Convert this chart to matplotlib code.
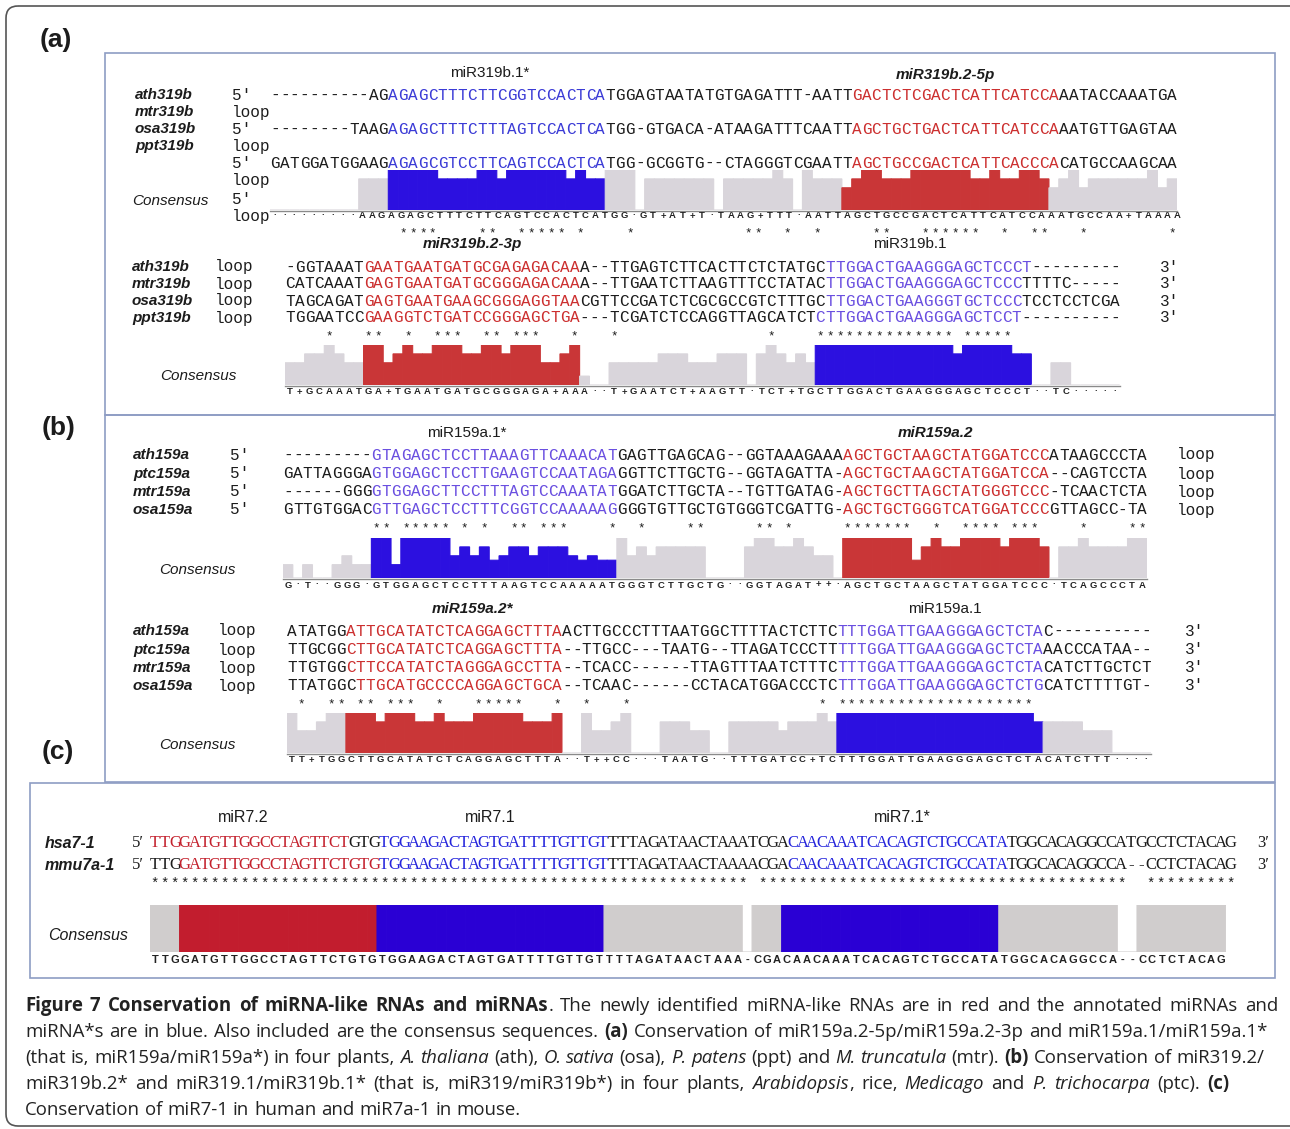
import numpy as np
import matplotlib.pyplot as plt
from matplotlib.patches import Rectangle, FancyBboxPatch

W, H = 1290, 1129
MONO, SANS, SERIF = 'Liberation Mono', 'Liberation Sans', 'Liberation Serif'

# ---------------- data ----------------
# each row: list of (text, colour key)  k = black, b = miRNA (blue), r = miRNA-like (red)
a1_names = ['ath319b', 'mtr319b', 'osa319b', 'ppt319b']
a1_tags = ["5\u2032", 'loop', "5\u2032", 'loop', "5\u2032", 'loop', "5\u2032"]
a1_rows = [
    [('----------AG', 'k'), ('AGAGCTTTCTTCGGTCCACTCA', 'b'), ('TGGAGTAATATGTGAGATTT-AATT', 'k'),
     ('GACTCTCGACTCATTCATCCA', 'r'), ('AATACCAAATGA', 'k')],
    [('--------TAAG', 'k'), ('AGAGCTTTCTTTAGTCCACTCA', 'b'), ('TGG-GTGACA-ATAAGATTTCAATT', 'k'),
     ('AGCTGCTGACTCATTCATCCA', 'r'), ('AATGTTGAGTAA', 'k')],
    [('GATGGATGGAAG', 'k'), ('AGAGCGTCCTTCAGTCCACTCA', 'b'), ('TGG-GCGGTG--CTAGGGTCGAATT', 'k'),
     ('AGCTGCCGACTCATTCACCCA', 'r'), ('CATGCCAAGCAA', 'k')],
]
a1_cons = '\u00b7' * 9 + 'AAGAGAGCTTTCTTCAGTCCACTCATGG\u00b7GT+AT+T\u00b7TAAG+TTT\u00b7AATTAGCTGCCGACTCATTCATCCAAATGCCAA+TAAAA'
a1_runs = [(9, 0), (3, 7), (5, 9), (4, 7), (2, 9), (1, 7), (6, 9), (1, 7), (1, 9), (2, 7), (3, 9), (1, 0),
           (7, 7), (1, 0), (5, 7), (1, 9), (1, 7), (1, 0), (1, 9), (3, 7), (1, 5), (1, 7), (2, 9), (3, 7),
           (6, 9), (2, 7), (1, 9), (2, 7), (2, 9), (1, 7), (1, 5), (1, 7), (1, 9), (1, 5), (6, 7), (1, 9),
           (1, 5), (1, 7)]
a1_spans = [(12, 34, 'b'), (58, 79, 'r')]
a1_stars = [13, 14, 15, 16, 21, 22, 25, 26, 27, 28, 29, 31, 36, 48, 49, 52, 55, 61, 62, 66, 67, 68, 69,
            70, 71, 74, 77, 78, 82, 91]

a2_names = ['ath319b', 'mtr319b', 'osa319b', 'ppt319b']
a2_rows = [
    [('-GGTAAAT', 'k'), ('GAATGAATGATGCGAGAGACAA', 'r'), ('A--TTGAGTCTTCACTTCTCTATGC', 'k'),
     ('TTGGACTGAAGGGAGCTCCCT', 'b'), ('---------', 'k')],
    [('CATCAAAT', 'k'), ('GAGTGAATGATGCGGGAGACAA', 'r'), ('A--TTGAATCTTAAGTTTCCTATAC', 'k'),
     ('TTGGACTGAAGGGAGCTCCC', 'b'), ('TTTTC-----', 'k')],
    [('TAGCAGAT', 'k'), ('GAGTGAATGAAGCGGGAGGTAA', 'r'), ('CGTTCCGATCTCGCGCCGTCTTTGC', 'k'),
     ('TTGGACTGAAGGGTGCTCCC', 'b'), ('TCCTCCTCGA', 'k')],
    [('TGGAATCC', 'k'), ('GAAGGTCTGATCCGGGAGCTGA', 'r'), ('---TCGATCTCCAGGTTAGCATCT', 'k'),
     ('CTTGGACTGAAGGGAGCTCCT', 'b'), ('----------', 'k')],
]
a2_cons = 'T+GCAAATGA+TGAATGATGCGGGAGA+AAA\u00b7\u00b7T+GAATCT+AAGTT\u00b7TCT+TGCTTGGACTGAAGGGAGCTCCCT\u00b7\u00b7TC\u00b7\u00b7\u00b7\u00b7\u00b7'
a2_runs = [(2, 5), (2, 7), (1, 9), (1, 7), (2, 5), (2, 9), (1, 5), (1, 7), (1, 9), (2, 7), (3, 9), (2, 7),
           (2, 9), (1, 7), (3, 9), (2, 5), (1, 7), (1, 9), (1, 2), (2, 0), (5, 5), (3, 7), (3, 5), (3, 7),
           (1, 0), (1, 7), (1, 9), (1, 7), (1, 5), (1, 7), (1, 5), (14, 9), (1, 7), (5, 9), (2, 7), (2, 0),
           (2, 5), (5, 0)]
a2_spans = [(8, 30, 'r'), (54, 76, 'b')]
a2_stars = [4, 8, 9, 12, 15, 16, 17, 20, 21, 23, 24, 25, 29, 33, 49, 54, 55, 56, 57, 58, 59, 60, 61, 62, 63,
            64, 65, 66, 67, 69, 70, 71, 72, 73]

b1_names = ['ath159a', 'ptc159a', 'mtr159a', 'osa159a']
b1_rows = [
    [('---------', 'k'), ('GTAGAGCTCCTTAAAGTTCAAACAT', 'b'), ('GAGTTGAGCAG--GGTAAAGAAA', 'k'),
     ('AGCTGCTAAGCTATGGATCCC', 'r'), ('ATAAGCCCTA', 'k')],
    [('GATTAGGGA', 'k'), ('GTGGAGCTCCTTGAAGTCCAATAGA', 'b'), ('GGTTCTTGCTG--GGTAGATTA-', 'k'),
     ('AGCTGCTAAGCTATGGATCCA', 'r'), ('--CAGTCCTA', 'k')],
    [('------GGG', 'k'), ('GTGGAGCTTCCTTTAGTCCAAATAT', 'b'), ('GGATCTTGCTA--TGTTGATAG-', 'k'),
     ('AGCTGCTTAGCTATGGGTCCC', 'r'), ('-TCAACTCTA', 'k')],
    [('GTTGTGGAC', 'k'), ('GTTGAGCTCCTTTCGGTCCAAAAAG', 'b'), ('GGGTGTTGCTGTGGGTCGATTG-', 'k'),
     ('AGCTGCTGGGTCATGGATCCC', 'r'), ('GTTAGCC-TA', 'k')],
]
b1_cons = 'G\u00b7T\u00b7\u00b7GGG\u00b7GTGGAGCTCCTTTAAGTCCAAAAATGGGTCTTGCTG\u00b7\u00b7GGTAGAT++\u00b7AGCTGCTAAGCTATGGATCCC\u00b7TCAGCCCTA'
b1_runs = [(1, 3), (1, 0), (1, 3), (2, 0), (1, 3), (1, 5), (2, 3), (2, 9), (1, 3), (5, 9), (1, 5), (1, 7),
           (1, 5), (1, 7), (1, 4), (1, 5), (2, 7), (1, 5), (3, 7), (1, 5), (1, 4), (1, 5), (2, 4), (1, 9),
           (1, 5), (1, 7), (1, 5), (5, 7), (4, 0), (1, 7), (2, 9), (2, 7), (1, 9), (1, 7), (2, 5), (1, 0),
           (7, 9), (1, 4), (1, 7), (1, 9), (2, 7), (4, 9), (1, 7), (3, 9), (1, 7), (1, 0), (2, 7), (1, 9),
           (4, 7), (2, 9)]
b1_spans = [(9, 34, 'b'), (57, 78, 'r')]
b1_stars = [9, 10, 12, 13, 14, 15, 16, 18, 20, 23, 24, 26, 27, 28, 33, 36, 41, 42, 48, 49, 51, 57, 58, 59,
            60, 61, 62, 63, 66, 69, 70, 71, 72, 74, 75, 76, 81, 86, 87]

b2_names = ['ath159a', 'ptc159a', 'mtr159a', 'osa159a']
b2_rows = [
    [('ATATGG', 'k'), ('ATTGCATATCTCAGGAGCTTTA', 'r'), ('ACTTGCCCTTTAATGGCTTTTACTCTTC', 'k'),
     ('TTTGGATTGAAGGGAGCTCTA', 'b'), ('C----------', 'k')],
    [('TTGCGG', 'k'), ('CTTGCATATCTCAGGAGCTTTA', 'r'), ('--TTGCC---TAATG--TTAGATCCCTT', 'k'),
     ('TTTGGATTGAAGGGAGCTCTA', 'b'), ('AACCCATAA--', 'k')],
    [('TTGTGG', 'k'), ('CTTCCATATCTAGGGAGCCTTA', 'r'), ('--TCACC------TTAGTTTAATCTTTC', 'k'),
     ('TTTGGATTGAAGGGAGCTCTA', 'b'), ('CATCTTGCTCT', 'k')],
    [('TTATGGC', 'k'), ('TTGCATGCCCCAGGAGCTGCA', 'r'), ('--TCAAC------CCTACATGGACCCTC', 'k'),
     ('TTTGGATTGAAGGGAGCTCTG', 'b'), ('CATCTTTTGT-', 'k')],
]
b2_cons = 'TT+TGGCTTGCATATCTCAGGAGCTTTA\u00b7\u00b7T++CC\u00b7\u00b7\u00b7TAATG\u00b7\u00b7TTTGATCC+TCTTTGGATTGAAGGGAGCTCTACATCTTT\u00b7\u00b7\u00b7\u00b7'
b2_runs = [(1, 9), (2, 5), (1, 7), (5, 9), (1, 7), (3, 9), (2, 7), (1, 9), (3, 7), (5, 9), (3, 7), (1, 9),
           (2, 0), (1, 9), (2, 5), (1, 7), (1, 9), (3, 0), (3, 7), (2, 5), (2, 0), (5, 7), (1, 5), (3, 7),
           (1, 9), (1, 7), (20, 9), (1, 7), (4, 7), (3, 5), (4, 0)]
b2_spans = [(6, 28, 'r'), (56, 77, 'b')]
b2_stars = [1, 4, 5, 7, 8, 10, 11, 12, 15, 19, 20, 21, 22, 23, 27, 30, 34, 54, 56, 57, 58, 59, 60, 61, 62,
            63, 64, 65, 66, 67, 68, 69, 70, 71, 72, 73, 74, 75]

c_names = ['hsa7-1', 'mmu7a-1']
c_rows = [
    [('TTGGATGTTGGCCTAGTTCT', 'r'), ('GTG', 'k'), ('TGGAAGACTAGTGATTTTGTTGT', 'b'),
     ('TTTAGATAACTAAATCGA', 'k'), ('CAACAAATCACAGTCTGCCATA', 'b'), ('TGGCACAGGCCATGCCTCTACAG', 'k')],
    [('TTG', 'k'), ('GATGTTGGCCTAGTTCTGTG', 'r'), ('TGGAAGACTAGTGATTTTGTTGT', 'b'),
     ('TTTAGATAACTAAAACGA', 'k'), ('CAACAAATCACAGTCTGCCATA', 'b'), ('TGGCACAGGCCA--CCTCTACAG', 'k')],
]
c_cons = 'TTGGATGTTGGCCTAGTTCTGTGTGGAAGACTAGTGATTTTGTTGTTTTAGATAACTAAA-CGACAACAAATCACAGTCTGCCATATGGCACAGGCCA--CCTCTACAG'
c_runs = [(60, 9), (1, 0), (37, 9), (2, 0), (9, 9)]
c_spans = [(3, 23, 'r'), (23, 46, 'b'), (64, 86, 'b')]
c_star_gaps = [60, 98, 99]

caption = [
    [('Figure 7 Conservation of miRNA-like RNAs and miRNAs', 'b'),
     ('. The newly identified miRNA-like RNAs are in red and the annotated miRNAs and', 'n')],
    [('miRNA*s are in blue. Also included are the consensus sequences. ', 'n'), ('(a)', 'b'),
     (' Conservation of miR159a.2-5p/miR159a.2-3p and miR159a.1/miR159a.1*', 'n')],
    [('(that is, miR159a/miR159a*) in four plants, ', 'n'), ('A. thaliana', 'i'), (' (ath), ', 'n'),
     ('O. sativa', 'i'), (' (osa), ', 'n'), ('P. patens', 'i'), (' (ppt) and ', 'n'),
     ('M. truncatula', 'i'), (' (mtr). ', 'n'), ('(b)', 'b'), (' Conservation of miR319.2/', 'n')],
    [('miR319b.2* and miR319.1/miR319b.1* (that is, miR319/miR319b*) in four plants, ', 'n'),
     ('Arabidopsis', 'i'), (', rice, ', 'n'), ('Medicago', 'i'), (' and ', 'n'),
     ('P. trichocarpa', 'i'), (' (ptc). ', 'n'), ('(c)', 'b')],
    [('Conservation of miR7-1 in human and miR7a-1 in mouse.', 'n')],
]

# ---------------- drawing ----------------
INK = '#1c1c1c'
TXT = {'k': INK, 'b': '#6a4fe0', 'r': '#cc2f2f'}
TXT_A1 = {'k': INK, 'b': '#3b3bd6', 'r': '#cc2f2f'}
TXT_C = {'k': INK, 'b': '#2626dc', 'r': '#c4222e'}
BAR = {'g': '#d9d5db', 'b': '#2c10e0', 'r': '#c93637'}
BAR_C = {'g': '#d0cdcd', 'b': '#2a00d4', 'r': '#c21d2e'}
BOX = '#8e9dc4'

fig = plt.figure(figsize=(W / 100, H / 100), dpi=100)
ax = fig.add_axes([0, 0, 1, 1])
ax.set_xlim(0, W)
ax.set_ylim(H, 0)
ax.axis('off')


def seq_row(x0, cw, y, segs, cmap, font=MONO, size=11.5):
    col = 0
    for text, key in segs:
        for ch in text:
            ax.text(x0 + (col + 0.5) * cw, y, ch, color=cmap[key], family=font, size=size,
                    ha='center', va='center')
            col += 1


def bars(x0, cw, base, hmax, runs, spans, pal, line=True):
    counts, levels = zip(*runs)
    h = np.repeat(levels, counts)
    n = len(h)
    cols = [pal['g']] * n
    for s, e, c in spans:
        cols[s:e] = [pal[c]] * (e - s)
    bax = fig.add_axes([x0 / W, 1 - base / H, n * cw / W, hmax / H])
    # no pixel snapping + face-coloured edge: no hair-line seams between columns
    bax.bar(np.arange(n), h, width=1.0, align='edge', color=cols, edgecolor=cols,
            linewidth=0.8, snap=False)
    bax.set_xlim(0, n)
    bax.set_ylim(0, 9)
    bax.axis('off')
    if line:
        ax.plot([x0, x0 + n * cw], [base + 0.5, base + 0.5], color='#8a8a8a', lw=1.0)


def stars(x0, cw, y, cols, size=9):
    for c in cols:
        ax.text(x0 + (c + 0.5) * cw, y, '*', family=MONO, size=size, color=INK,
                ha='center', va='center')


def cons_text(x0, x1, y, s, size=6.8):
    step = (x1 - x0) / len(s)
    for i, ch in enumerate(s):
        ax.text(x0 + (i + 0.5) * step, y, ch, family=SANS, weight='bold', size=size,
                color='#222222', ha='center', va='center')


def label(x, y, s, ha='left', style='normal', weight='normal', size=11, family=SANS):
    ax.text(x, y, s, ha=ha, va='center', style=style, weight=weight, size=size, family=family,
            color=INK)


# frames
ax.add_patch(FancyBboxPatch((6, 6), 1300, 1120, boxstyle='round,pad=0,rounding_size=12',
                            fc='none', ec='#555555', lw=1.2))
ax.add_patch(Rectangle((105, 53), 1170, 362, fc='none', ec=BOX, lw=1.2))
ax.add_patch(Rectangle((105, 415), 1170, 367, fc='none', ec=BOX, lw=1.2))
ax.add_patch(Rectangle((30, 783), 1245, 195, fc='none', ec=BOX, lw=1.2))
label(40, 40, '(a)', weight='bold', size=19)
label(42, 428, '(b)', weight='bold', size=19)
label(42, 752, '(c)', weight='bold', size=19)

# ---- (a) upper block
cw = 9.86
label(490, 73, 'miR319b.1*', ha='center')
label(945, 75, 'miR319b.2-5p', ha='center', style='italic', weight='bold')
for i, nm in enumerate(a1_names):
    label(135, 95 + 17 * i, nm, style='italic', weight='bold')
for i, tg in enumerate(a1_tags):
    label(232, [95, 112, 129, 146, 163, 181, 199][i], tg, family=MONO, size=11.5)
label(132, 201, 'Consensus', style='italic')
for y, row in zip([95, 129, 163], a1_rows):
    seq_row(270, cw, y, row, TXT_A1)
bars(270, cw, 210, 40, a1_runs, a1_spans, BAR)
label(232, 216, 'loop', family=MONO, size=11.5)
cons_text(270, 1182, 216, a1_cons)
stars(270, cw, 233, a1_stars)

# ---- (a) lower block
cw = 9.82
label(472, 244, 'miR319b.2-3p', ha='center', style='italic', weight='bold')
label(910, 244, 'miR319b.1', ha='center')
for i, (nm, row) in enumerate(zip(a2_names, a2_rows)):
    y = 267 + 17 * i
    label(132, y, nm, style='italic', weight='bold')
    label(215, y, 'loop', family=MONO, size=11.5)
    label(1160, y, "3\u2032", family=MONO, size=11.5)
    seq_row(285, cw, y, row, TXT)
stars(285, cw, 336, a2_stars)
bars(285, cw, 385, 40, a2_runs, a2_spans, BAR)
label(198, 376, 'Consensus', ha='center', style='italic')
cons_text(285, 1120, 392, a2_cons)

# ---- (b) upper block
label(467, 433, 'miR159a.1*', ha='center')
label(935, 433, 'miR159a.2', ha='center', style='italic', weight='bold')
for nm, row, y in zip(b1_names, b1_rows, [455, 474, 492, 510]):
    label(133, y, nm, style='italic', weight='bold')
    label(230, y, "5\u2032", family=MONO, size=11.5)
    label(1177, y, 'loop', family=MONO, size=11.5)
    seq_row(283, cw, y, row, TXT)
stars(283, cw, 528, b1_stars)
bars(283, cw, 578, 40, b1_runs, b1_spans, BAR)
label(197, 570, 'Consensus', ha='center', style='italic')
cons_text(283, 1147, 585, b1_cons)

# ---- (b) lower block
label(472, 609, 'miR159a.2*', ha='center', style='italic', weight='bold')
label(945, 609, 'miR159a.1', ha='center')
for nm, row, y in zip(b2_names, b2_rows, [631, 650, 668, 686]):
    label(133, y, nm, style='italic', weight='bold')
    label(218, y, 'loop', family=MONO, size=11.5)
    label(1185, y, "3\u2032", family=MONO, size=11.5)
    seq_row(287, cw, y, row, TXT)
stars(287, cw, 704, b2_stars)
bars(287, cw, 753, 40, b2_runs, b2_spans, BAR)
label(197, 745, 'Consensus', ha='center', style='italic')
cons_text(287, 1151, 760, b2_cons)

# ---- (c)
cw = 9.96
label(243, 818, 'miR7.2', ha='center', size=11.5)
label(490, 818, 'miR7.1', ha='center', size=11.5)
label(902, 818, 'miR7.1*', ha='center', size=11.5)
for nm, row, y in zip(c_names, c_rows, [843, 865]):
    label(45, y, nm, style='italic', weight='bold', size=11.5)
    label(132, y, "5\u2032", family=SERIF, size=12)
    label(1257, y, "3\u2032", family=SERIF, size=12)
    seq_row(150, cw, y, row, TXT_C, font=SERIF, size=12)
n_c = sum(len(t) for t, _ in c_rows[0])
stars(150, cw, 884, [c for c in range(n_c) if c not in c_star_gaps], size=10)
bars(150, 9.87, 952, 47, c_runs, c_spans, BAR_C, line=False)
label(88, 935, 'Consensus', ha='center', style='italic', size=11.5)
cons_text(150, 1226, 960, c_cons, size=8)

# ---- caption
renderer = fig.canvas.get_renderer()
STY = {'n': dict(), 'b': dict(weight='bold'), 'i': dict(style='italic')}
CAP_SIZE = 13.4


def caption_line(x, y, runs, target=None, size=CAP_SIZE):
    words, pending = [], False
    for text, st in runs:
        for k, p in enumerate(text.split(' ')):
            if k > 0:
                pending = True
            if p:
                words.append((p, st, pending))
                pending = False
    arts = []
    for p, st, sp in words:
        t = ax.text(0, y, p, family='Open Sans', size=size, color='#222222', va='center', **STY[st])
        arts.append((t, t.get_window_extent(renderer).width, sp))
    probe = ax.text(0, 0, 'x x', family='Open Sans', size=size)
    probe2 = ax.text(0, 0, 'xx', family='Open Sans', size=size)
    space = probe.get_window_extent(renderer).width - probe2.get_window_extent(renderer).width
    probe.remove()
    probe2.remove()
    n_sp = sum(1 for _, _, sp in arts if sp)
    if target is not None and n_sp:
        space = max((target - x - sum(w for _, w, _ in arts)) / n_sp, 0.6 * space)
    cx = x
    for t, w, sp in arts:
        if sp:
            cx += space
        t.set_x(cx)
        cx += w


for line, y, tgt in zip(caption, [1006, 1032, 1058, 1084, 1110], [1278, 1268, 1264, 1229, None]):
    caption_line(25, y, line, tgt)

fig.savefig('out.png', dpi=100)
